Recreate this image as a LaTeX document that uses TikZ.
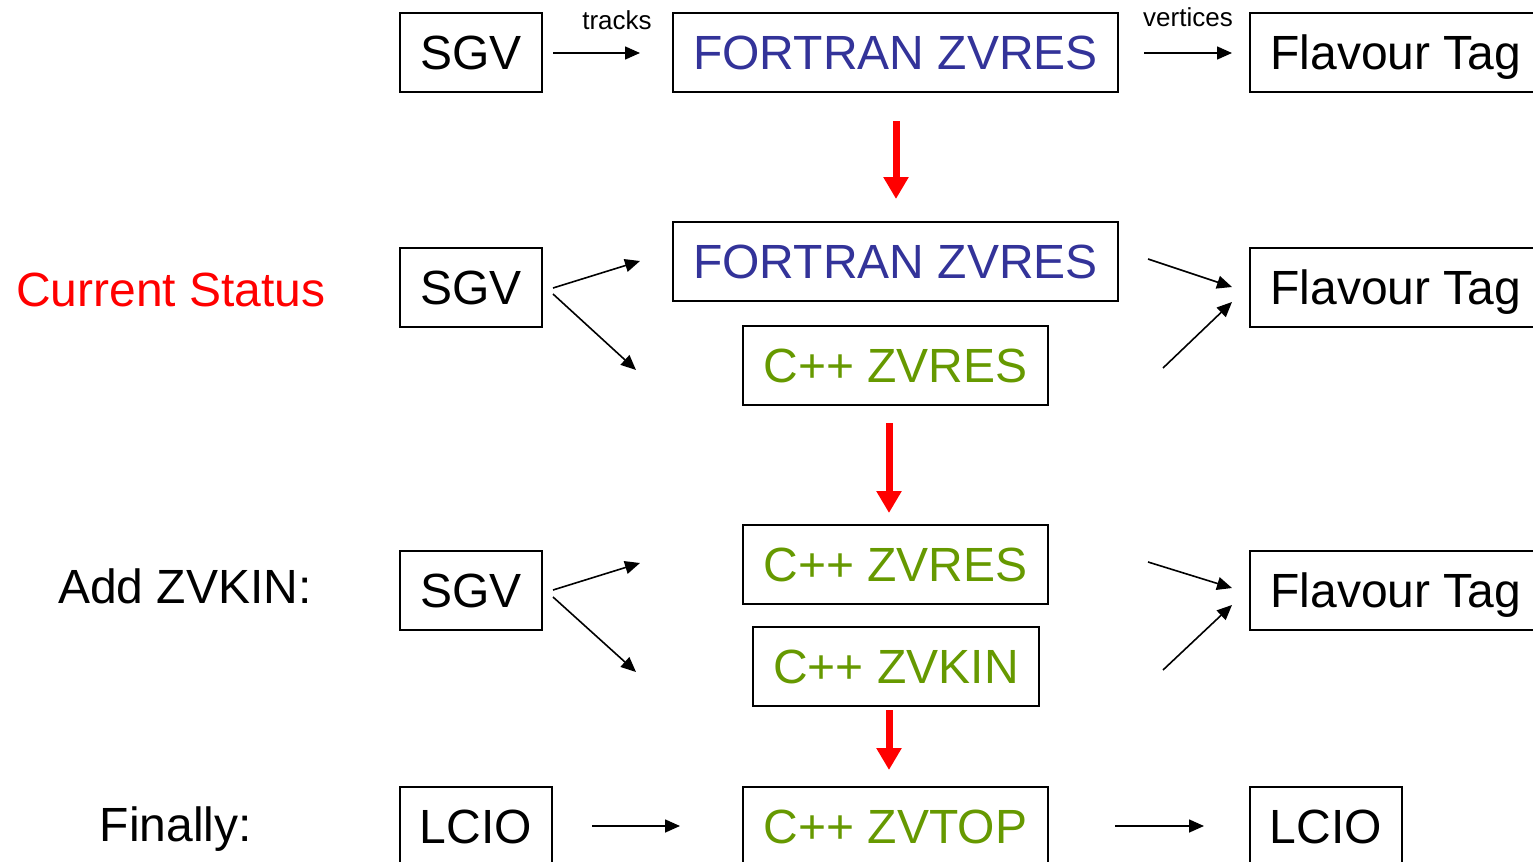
\documentclass[tikz,border=0pt]{standalone}
\usepackage{fontspec}
\setmainfont{Liberation Sans}
\usetikzlibrary{arrows.meta}
\definecolor{fblue}{HTML}{333399}
\definecolor{cgreen}{HTML}{669900}
\definecolor{sred}{HTML}{FF0000}
\tikzset{
  box/.style={draw=black, line width=1pt, inner sep=0pt, minimum height=39.5pt,
    text height=17.2pt, text depth=0pt, font=\fontsize{24}{28}\selectfont},
  biglabel/.style={inner sep=0pt, text height=17.2pt, text depth=0pt, font=\fontsize{24}{28}\selectfont},
  smalllabel/.style={inner sep=0pt, anchor=base, font=\fontsize{13}{15}\selectfont},
  flow/.style={line width=0.8pt, -{Triangle[length=7.5pt,width=6.5pt]}},
  redflow/.style={sred, line width=3.5pt, -{Triangle[length=11pt,width=12pt]}}
}
\begin{document}
\begin{tikzpicture}[x=0.5pt,y=-0.5pt]
\useasboundingbox (0,0) rectangle (1533,862);
\clip (0,0) rectangle (1533,862);
% Row 1
\node[box, minimum width=71pt] (sgv1) at (471,52.5) {SGV};
\node[box, minimum width=222.5pt, text=fblue] (fz1) at (895.5,52.5) {FORTRAN ZVRES};
\node[box, minimum width=146pt] (ft1) at (1396,52.5) {Flavour Tag};
\node[smalllabel] (trk) at (617,29) {tracks};
\node[smalllabel] (vtx) at (1188,26) {vertices};
\coordinate (a1s) at (553,53); \coordinate (a1e) at (640,53);
\coordinate (b1s) at (1144,53); \coordinate (b1e) at (1232,53);
\draw[flow] (a1s) -- (a1e);
\draw[flow] (b1s) -- (b1e);
\coordinate (r1s) at (896,121); \coordinate (r1e) at (896,199);
\draw[redflow] (r1s) -- (r1e);
% Row 2
\node[biglabel, text=sred] (cs) at (171,289) {Current Status};
\node[box, minimum width=71pt] (sgv2) at (471,287.5) {SGV};
\node[box, minimum width=222.5pt, text=fblue] (fz2) at (895.5,261.5) {FORTRAN ZVRES};
\node[box, minimum width=152.5pt, text=cgreen] (cz2) at (895.5,365.5) {C++ ZVRES};
\node[box, minimum width=146pt] (ft2) at (1396,287.5) {Flavour Tag};
\coordinate (c2a) at (553,288); \coordinate (c2b) at (640,261);
\coordinate (c2c) at (553,294); \coordinate (c2d) at (636,370);
\coordinate (c2e) at (1148,259); \coordinate (c2f) at (1232,287);
\coordinate (c2g) at (1163,368); \coordinate (c2h) at (1232,302);
\draw[flow] (c2a) -- (c2b);
\draw[flow] (c2c) -- (c2d);
\draw[flow] (c2e) -- (c2f);
\draw[flow] (c2g) -- (c2h);
\coordinate (r2s) at (889,423); \coordinate (r2e) at (889,513);
\draw[redflow] (r2s) -- (r2e);
% Row 3
\node[biglabel] (az) at (185,586) {Add ZVKIN:};
\node[box, minimum width=71pt] (sgv3) at (471,590.5) {SGV};
\node[box, minimum width=152.5pt, text=cgreen] (cz3) at (895.5,564.5) {C++ ZVRES};
\node[box, minimum width=143pt, text=cgreen] (ck3) at (896,666.5) {C++ ZVKIN};
\node[box, minimum width=146pt] (ft3) at (1396,590.5) {Flavour Tag};
\coordinate (c3a) at (553,590); \coordinate (c3b) at (640,563);
\coordinate (c3c) at (553,597); \coordinate (c3d) at (636,672);
\coordinate (c3e) at (1148,562); \coordinate (c3f) at (1232,588);
\coordinate (c3g) at (1163,670); \coordinate (c3h) at (1232,605);
\draw[flow] (c3a) -- (c3b);
\draw[flow] (c3c) -- (c3d);
\draw[flow] (c3e) -- (c3f);
\draw[flow] (c3g) -- (c3h);
\coordinate (r3s) at (889,710); \coordinate (r3e) at (889,770);
\draw[redflow] (r3s) -- (r3e);
% Row 4
\node[biglabel] (fin) at (176,824) {Finally:};
\node[box, minimum width=76pt] (lc1) at (476,826.5) {LCIO};
\node[box, minimum width=152.5pt, text=cgreen] (zt) at (895.5,826.5) {C++ ZVTOP};
\node[box, minimum width=76pt] (lc2) at (1326,826.5) {LCIO};
\coordinate (d4a) at (592,826); \coordinate (d4b) at (680,826);
\coordinate (d4c) at (1115,826); \coordinate (d4d) at (1204,826);
\draw[flow] (d4a) -- (d4b);
\draw[flow] (d4c) -- (d4d);
\end{tikzpicture}
\end{document}
